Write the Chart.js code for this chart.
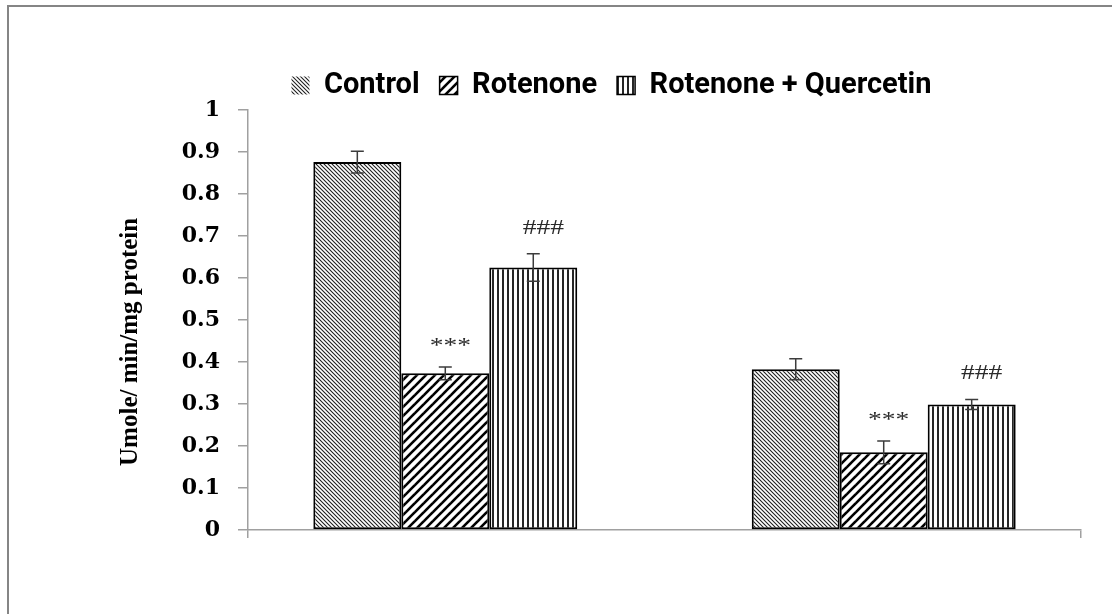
<!DOCTYPE html>
<html>
<head>
<meta charset="utf-8">
<script src="https://cdn.jsdelivr.net/npm/chart.js@4.4.1/dist/chart.umd.min.js"></script>
<style>
  html, body { margin: 0; padding: 0; background: #fff; }
  #wrap { position: relative; width: 1112px; height: 614px; overflow: hidden; }
  #frame { position: absolute; left: 7px; top: 5px; right: -10px; bottom: -10px;
           border-top: 2px solid #858585; border-left: 2px solid #858585; }
  #c { position: absolute; left: 0; top: 0; }
</style>
</head>
<body>
<div id="wrap">
  <div id="frame"></div>
  <canvas id="c" width="1112" height="614"></canvas>
</div>
<script>
// x-axis categories carry no printed labels
const groups = ['', ''];

// enzyme activity (Umole/min/mg protein), mean and SEM per group
const controlMean   = [0.876, 0.383];
const controlSem    = [0.026, 0.025];
const rotenoneMean  = [0.373, 0.185];
const rotenoneSem   = [0.015, 0.027];
const rotQuerMean   = [0.625, 0.299];
const rotQuerSem    = [0.033, 0.012];

// significance marks printed above the bars
const rotenoneMarks = ['***', '***'];
const rotQuerMarks  = ['###', '###'];

const seriesNames = ['Control', 'Rotenone', 'Rotenone + Quercetin'];
const yTickLabels = ['0', '0.1', '0.2', '0.3', '0.4', '0.5', '0.6', '0.7', '0.8', '0.9', '1'];
const yTitle = 'Umole/ min/mg protein';

const canvas = document.getElementById('c');
const ctx = canvas.getContext('2d');

// small repeating tiles used as hatch fills
function tile(size, paint) {
  const t = document.createElement('canvas');
  t.width = t.height = size;
  const g = t.getContext('2d');
  g.fillStyle = '#fff';
  g.fillRect(0, 0, size, size);
  paint(g, size);
  return ctx.createPattern(t, 'repeat');
}
const fineBackslash = tile(4, (g, s) => {
  g.strokeStyle = '#1e1e1e'; g.lineWidth = 1.1;
  for (const o of [-s, 0, s]) { g.beginPath(); g.moveTo(o - 1, -1); g.lineTo(o + s + 1, s + 1); g.stroke(); }
});
const boldSlash = tile(9, (g, s) => {
  g.strokeStyle = '#000'; g.lineWidth = 2.6;
  for (const o of [-s, 0, s]) { g.beginPath(); g.moveTo(o - 1, s + 1); g.lineTo(o + s + 1, -1); g.stroke(); }
});
const vertical = tile(5, (g, s) => {
  g.fillStyle = '#262626'; g.fillRect(2, 0, 2, s);
});

const toPoints = arr => arr.map((v, i) => ({ x: i + 1, y: v }));

const datasets = [
  { label: seriesNames[0], data: toPoints(controlMean),  errors: controlSem,  marks: null,          backgroundColor: fineBackslash },
  { label: seriesNames[1], data: toPoints(rotenoneMean), errors: rotenoneSem, marks: rotenoneMarks, backgroundColor: boldSlash },
  { label: seriesNames[2], data: toPoints(rotQuerMean),  errors: rotQuerSem,  marks: rotQuerMarks,  backgroundColor: vertical }
].map(d => Object.assign(d, {
  borderColor: '#000',
  borderWidth: 2,
  borderSkipped: false,
  barPercentage: 1,
  categoryPercentage: 0.602
}));

// SEM whiskers with caps
const errorBars = {
  id: 'errorBars',
  afterDatasetsDraw(chart) {
    const c = chart.ctx, y = chart.scales.y;
    c.save();
    c.strokeStyle = '#3c3c3c';
    c.lineWidth = 1.5;
    chart.data.datasets.forEach((ds, i) => {
      chart.getDatasetMeta(i).data.forEach((bar, j) => {
        const v = ds.data[j].y, e = ds.errors[j];
        const top = y.getPixelForValue(v + e), bot = y.getPixelForValue(v - e);
        c.beginPath();
        c.moveTo(bar.x, top); c.lineTo(bar.x, bot);
        c.moveTo(bar.x - 6.5, top); c.lineTo(bar.x + 6.5, top);
        c.moveTo(bar.x - 6.5, bot); c.lineTo(bar.x + 6.5, bot);
        c.stroke();
      });
    });
    c.restore();
  }
};

// *** and ### above the whiskers
const markStyle = { '***': { dx: 5, lift: 15 }, '###': { dx: 10, lift: 20 } };
const sigMarks = {
  id: 'sigMarks',
  afterDatasetsDraw(chart) {
    const c = chart.ctx, y = chart.scales.y;
    c.save();
    c.fillStyle = '#2a2a2a';
    c.font = '22px "Liberation Serif", "Times New Roman", serif';
    c.textAlign = 'center';
    c.textBaseline = 'alphabetic';
    chart.data.datasets.forEach((ds, i) => {
      if (!ds.marks) return;
      chart.getDatasetMeta(i).data.forEach((bar, j) => {
        const m = ds.marks[j];
        const st = markStyle[m];
        const top = y.getPixelForValue(ds.data[j].y + ds.errors[j]);
        c.save();
        c.translate(bar.x + st.dx, top - st.lift);
        c.scale(1.25, 1);
        c.fillText(m, 0, 0);
        c.restore();
      });
    });
    c.restore();
  }
};

// nudge the legend row sideways
const legendShift = {
  id: 'legendShift',
  afterLayout(chart) {
    if (chart.legend) { chart.legend.left += 21; chart.legend.right += 21; }
  }
};

new Chart(ctx, {
  type: 'bar',
  data: { labels: groups, datasets },
  plugins: [errorBars, sigMarks, legendShift],
  options: {
    responsive: false,
    animation: false,
    layout: { padding: { left: 100, right: 31, top: 51, bottom: 76 } },
    plugins: {
      tooltip: { enabled: false },
      legend: {
        position: 'top',
        labels: {
          color: '#000',
          font: { family: 'Roboto, "Open Sans", sans-serif', size: 29, weight: 'bold' },
          boxWidth: 18,
          boxHeight: 18,
          padding: 20,
          generateLabels(chart) {
            const items = Chart.defaults.plugins.legend.labels.generateLabels(chart);
            items.forEach((it, i) => { it.lineWidth = i === 0 ? 0 : 1.5; });
            return items;
          }
        }
      }
    },
    scales: {
      x: {
        type: 'linear',
        offset: false,
        min: 0.55,
        max: 2.45,
        afterBuildTicks(s) { s.ticks = [{ value: 0.55 }, { value: 2.45 }]; },
        ticks: { display: false },
        grid: { display: true, offset: false, drawOnChartArea: false, drawTicks: true, tickLength: 8, color: '#a0a0a0', lineWidth: 1.5 },
        border: { display: true, color: '#a0a0a0', width: 1.5 }
      },
      y: {
        min: 0,
        max: 1,
        afterFit(s) { s.width = 148; },
        ticks: {
          stepSize: 0.1,
          padding: 18,
          color: '#000',
          font: { family: '"DejaVu Serif", serif', size: 22, weight: 'bold' },
          callback: (v, i) => yTickLabels[i]
        },
        grid: { display: true, drawOnChartArea: false, drawTicks: true, tickLength: 10, color: '#a0a0a0', lineWidth: 1.5 },
        border: { display: true, color: '#a0a0a0', width: 1.5 },
        title: {
          display: true,
          // trailing no-break spaces sit the printed words a little below the axis middle
          text: yTitle + '\u00a0'.repeat(7),
          color: '#000',
          padding: { top: 16, bottom: 0 },
          font: { family: '"Liberation Serif", "Times New Roman", serif', size: 25, weight: 'bold' }
        }
      }
    }
  }
});
</script>
</body>
</html>
